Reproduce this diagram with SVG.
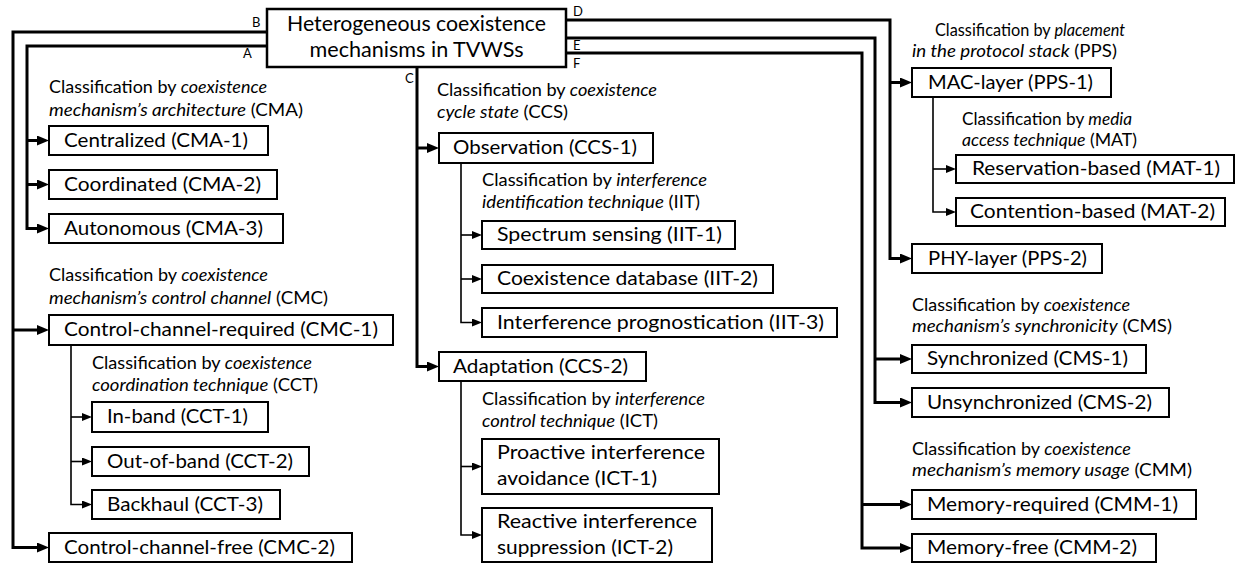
<svg xmlns="http://www.w3.org/2000/svg" width="1239" height="563" viewBox="0 0 1239 563">
  <style>
    .box { fill: #fff; stroke: #000; stroke-width: 2; }
    .root { fill: #fff; stroke: #000; stroke-width: 2.5; }
    .t { font-family: Lato, "Liberation Sans", sans-serif; font-size: 20px; fill: #000; }
    .rt { font-family: Lato, "Liberation Sans", sans-serif; font-size: 21px; fill: #000; text-anchor: middle; }
    .lb { font-family: Lato, "Liberation Sans", sans-serif; font-size: 17px; fill: #000; }
    .lb tspan.i { font-style: italic; }
    .let { font-family: Lato, "Liberation Sans", sans-serif; font-size: 13px; fill: #000; }
    .thick { fill: none; stroke: #000; stroke-width: 3; marker-end: url(#ah); }
    .thin { fill: none; stroke: #000; stroke-width: 1.6; marker-end: url(#ahs); }
  </style>
  <defs>
    <marker id="ah" markerUnits="userSpaceOnUse" markerWidth="13" markerHeight="11" refX="5" refY="5" orient="auto">
      <path d="M0,0 L12,5 L0,10 z" fill="#000"/>
    </marker>
    <marker id="ahs" markerUnits="userSpaceOnUse" markerWidth="11" markerHeight="9" refX="4" refY="4" orient="auto">
      <path d="M0,0 L10,4 L0,8 z" fill="#000"/>
    </marker>
  </defs>
  <rect width="1239" height="563" fill="#fff"/>

  <!-- connectors -->
  <g id="connectors">
    <!-- B: control channel -->
    <path class="thick" d="M267,32 H13 V547.5 H42"/>
    <path class="thick" d="M13,330 H42"/>
    <!-- A: architecture -->
    <path class="thick" d="M267,46 H27 V228.5 H42"/>
    <path class="thick" d="M27,140.5 H42"/>
    <path class="thick" d="M27,184.5 H42"/>
    <!-- C: coexistence cycle state -->
    <path class="thick" d="M417,67 V366.5 H432"/>
    <path class="thick" d="M417,148 H432"/>
    <!-- D: protocol stack placement -->
    <path class="thick" d="M566,20 H890 V258.5 H905"/>
    <path class="thick" d="M890,82.5 H905"/>
    <!-- E: synchronicity -->
    <path class="thick" d="M566,38 H875 V402.5 H905"/>
    <path class="thick" d="M875,359 H905"/>
    <!-- F: memory usage -->
    <path class="thick" d="M566,53 H862 V548 H905"/>
    <path class="thick" d="M862,504.5 H905"/>
    <!-- sub-classifications -->
    <path class="thin" d="M71,345 V504.5 H86"/>
    <path class="thin" d="M71,417 H86"/>
    <path class="thin" d="M71,461.5 H86"/>
    <path class="thin" d="M461,163 V322.5 H476"/>
    <path class="thin" d="M461,235 H476"/>
    <path class="thin" d="M461,279 H476"/>
    <path class="thin" d="M461,381 V535 H476"/>
    <path class="thin" d="M461,466.5 H476"/>
    <path class="thin" d="M933,97 V212 H950"/>
    <path class="thin" d="M933,169 H950"/>
  </g>

  <!-- branch letters -->
  <g id="letters">
    <text class="let" x="252" y="27">B</text>
    <text class="let" x="243" y="58">A</text>
    <text class="let" x="405" y="83">C</text>
    <text class="let" x="573" y="16">D</text>
    <text class="let" x="573" y="50">E</text>
    <text class="let" x="573" y="68">F</text>
  </g>

  <!-- root -->
  <g id="root">
    <rect class="root" x="267" y="9" width="299" height="58"/>
    <text class="rt" x="416.5" y="31" textLength="259" lengthAdjust="spacingAndGlyphs">Heterogeneous coexistence</text>
    <text class="rt" x="416.5" y="57" textLength="214" lengthAdjust="spacingAndGlyphs">mechanisms in TVWSs</text>
  </g>

  <!-- classification labels -->
  <g id="label-cma">
    <text class="lb" x="49" y="93" textLength="218" lengthAdjust="spacingAndGlyphs">Classification by <tspan class="i">coexistence</tspan></text>
    <text class="lb" x="49" y="116" textLength="254" lengthAdjust="spacingAndGlyphs"><tspan class="i">mechanism’s architecture</tspan> (CMA)</text>
  </g>
  <g id="label-cmc">
    <text class="lb" x="49" y="281" textLength="219" lengthAdjust="spacingAndGlyphs">Classification by <tspan class="i">coexistence</tspan></text>
    <text class="lb" x="49" y="304" textLength="279" lengthAdjust="spacingAndGlyphs"><tspan class="i">mechanism’s control channel</tspan> (CMC)</text>
  </g>
  <g id="label-cct">
    <text class="lb" x="92" y="369" textLength="220" lengthAdjust="spacingAndGlyphs">Classification by <tspan class="i">coexistence</tspan></text>
    <text class="lb" x="92" y="391" textLength="226" lengthAdjust="spacingAndGlyphs"><tspan class="i">coordination technique</tspan> (CCT)</text>
  </g>
  <g id="label-ccs">
    <text class="lb" x="437" y="96" textLength="220" lengthAdjust="spacingAndGlyphs">Classification by <tspan class="i">coexistence</tspan></text>
    <text class="lb" x="437" y="118" textLength="131" lengthAdjust="spacingAndGlyphs"><tspan class="i">cycle state</tspan> (CCS)</text>
  </g>
  <g id="label-iit">
    <text class="lb" x="482" y="186" textLength="225" lengthAdjust="spacingAndGlyphs">Classification by <tspan class="i">interference</tspan></text>
    <text class="lb" x="482" y="208" textLength="218" lengthAdjust="spacingAndGlyphs"><tspan class="i">identification technique</tspan> (IIT)</text>
  </g>
  <g id="label-ict">
    <text class="lb" x="482" y="405" textLength="223" lengthAdjust="spacingAndGlyphs">Classification by <tspan class="i">interference</tspan></text>
    <text class="lb" x="482" y="427" textLength="176" lengthAdjust="spacingAndGlyphs"><tspan class="i">control technique</tspan> (ICT)</text>
  </g>
  <g id="label-pps">
    <text class="lb" x="935" y="36" textLength="190" lengthAdjust="spacingAndGlyphs">Classification by <tspan class="i">placement</tspan></text>
    <text class="lb" x="912" y="57" textLength="205" lengthAdjust="spacingAndGlyphs"><tspan class="i">in the protocol stack</tspan> (PPS)</text>
  </g>
  <g id="label-mat">
    <text class="lb" x="962" y="125" textLength="170" lengthAdjust="spacingAndGlyphs">Classification by <tspan class="i">media</tspan></text>
    <text class="lb" x="962" y="146" textLength="175" lengthAdjust="spacingAndGlyphs"><tspan class="i">access technique</tspan> (MAT)</text>
  </g>
  <g id="label-cms">
    <text class="lb" x="912" y="311" textLength="218" lengthAdjust="spacingAndGlyphs">Classification by <tspan class="i">coexistence</tspan></text>
    <text class="lb" x="912" y="332" textLength="260" lengthAdjust="spacingAndGlyphs"><tspan class="i">mechanism’s synchronicity</tspan> (CMS)</text>
  </g>
  <g id="label-cmm">
    <text class="lb" x="912" y="455" textLength="219" lengthAdjust="spacingAndGlyphs">Classification by <tspan class="i">coexistence</tspan></text>
    <text class="lb" x="912" y="476" textLength="280" lengthAdjust="spacingAndGlyphs"><tspan class="i">mechanism’s memory usage</tspan> (CMM)</text>
  </g>

  <!-- left branch nodes -->
  <g id="cma-1"><rect class="box" x="49" y="126" width="219" height="29"/><text class="t" x="64" y="147" textLength="184" lengthAdjust="spacingAndGlyphs">Centralized (CMA-1)</text></g>
  <g id="cma-2"><rect class="box" x="49" y="170" width="228" height="29"/><text class="t" x="64" y="191" textLength="197" lengthAdjust="spacingAndGlyphs">Coordinated (CMA-2)</text></g>
  <g id="cma-3"><rect class="box" x="49" y="214" width="234" height="29"/><text class="t" x="64" y="235" textLength="199" lengthAdjust="spacingAndGlyphs">Autonomous (CMA-3)</text></g>
  <g id="cmc-1"><rect class="box" x="49" y="315" width="344" height="30"/><text class="t" x="64" y="336" textLength="314" lengthAdjust="spacingAndGlyphs">Control-channel-required (CMC-1)</text></g>
  <g id="cct-1"><rect class="box" x="92" y="402" width="176" height="30"/><text class="t" x="107" y="423" textLength="141" lengthAdjust="spacingAndGlyphs">In-band (CCT-1)</text></g>
  <g id="cct-2"><rect class="box" x="92" y="447" width="217" height="29"/><text class="t" x="107" y="468" textLength="186" lengthAdjust="spacingAndGlyphs">Out-of-band (CCT-2)</text></g>
  <g id="cct-3"><rect class="box" x="92" y="490" width="188" height="29"/><text class="t" x="107" y="511" textLength="156" lengthAdjust="spacingAndGlyphs">Backhaul (CCT-3)</text></g>
  <g id="cmc-2"><rect class="box" x="49" y="533" width="303" height="29"/><text class="t" x="64" y="554" textLength="271" lengthAdjust="spacingAndGlyphs">Control-channel-free (CMC-2)</text></g>

  <!-- middle branch nodes -->
  <g id="ccs-1"><rect class="box" x="439" y="133" width="214" height="30"/><text class="t" x="453" y="154" textLength="184" lengthAdjust="spacingAndGlyphs">Observation (CCS-1)</text></g>
  <g id="iit-1"><rect class="box" x="482" y="221" width="253" height="28"/><text class="t" x="497" y="241" textLength="225" lengthAdjust="spacingAndGlyphs">Spectrum sensing (IIT-1)</text></g>
  <g id="iit-2"><rect class="box" x="482" y="265" width="291" height="28"/><text class="t" x="497" y="285" textLength="261" lengthAdjust="spacingAndGlyphs">Coexistence database (IIT-2)</text></g>
  <g id="iit-3"><rect class="box" x="482" y="308" width="355" height="29"/><text class="t" x="497" y="329" textLength="327" lengthAdjust="spacingAndGlyphs">Interference prognostication (IIT-3)</text></g>
  <g id="ccs-2"><rect class="box" x="439" y="352" width="207" height="29"/><text class="t" x="453" y="373" textLength="175" lengthAdjust="spacingAndGlyphs">Adaptation (CCS-2)</text></g>
  <g id="ict-1"><rect class="box" x="482" y="439" width="237" height="55"/>
    <text class="t" x="497" y="459" textLength="208" lengthAdjust="spacingAndGlyphs">Proactive interference</text>
    <text class="t" x="497" y="485" textLength="160" lengthAdjust="spacingAndGlyphs">avoidance (ICT-1)</text></g>
  <g id="ict-2"><rect class="box" x="482" y="508" width="230" height="54"/>
    <text class="t" x="497" y="528" textLength="200" lengthAdjust="spacingAndGlyphs">Reactive interference</text>
    <text class="t" x="497" y="554" textLength="176" lengthAdjust="spacingAndGlyphs">suppression (ICT-2)</text></g>

  <!-- right branch nodes -->
  <g id="pps-1"><rect class="box" x="912" y="68" width="199" height="29"/><text class="t" x="928" y="89" textLength="165" lengthAdjust="spacingAndGlyphs">MAC-layer (PPS-1)</text></g>
  <g id="mat-1"><rect class="box" x="956" y="155" width="278" height="28"/><text class="t" x="972" y="175" textLength="248" lengthAdjust="spacingAndGlyphs">Reservation-based (MAT-1)</text></g>
  <g id="mat-2"><rect class="box" x="956" y="198" width="269" height="28"/><text class="t" x="970" y="218" textLength="245" lengthAdjust="spacingAndGlyphs">Contention-based (MAT-2)</text></g>
  <g id="pps-2"><rect class="box" x="912" y="244" width="190" height="29"/><text class="t" x="928" y="265" textLength="159" lengthAdjust="spacingAndGlyphs">PHY-layer (PPS-2)</text></g>
  <g id="cms-1"><rect class="box" x="912" y="345" width="234" height="28"/><text class="t" x="927" y="365" textLength="201" lengthAdjust="spacingAndGlyphs">Synchronized (CMS-1)</text></g>
  <g id="cms-2"><rect class="box" x="912" y="388" width="257" height="29"/><text class="t" x="927" y="409" textLength="225" lengthAdjust="spacingAndGlyphs">Unsynchronized (CMS-2)</text></g>
  <g id="cmm-1"><rect class="box" x="912" y="490" width="284" height="29"/><text class="t" x="927" y="511" textLength="251" lengthAdjust="spacingAndGlyphs">Memory-required (CMM-1)</text></g>
  <g id="cmm-2"><rect class="box" x="912" y="534" width="244" height="28"/><text class="t" x="927" y="554" textLength="210" lengthAdjust="spacingAndGlyphs">Memory-free (CMM-2)</text></g>
</svg>
